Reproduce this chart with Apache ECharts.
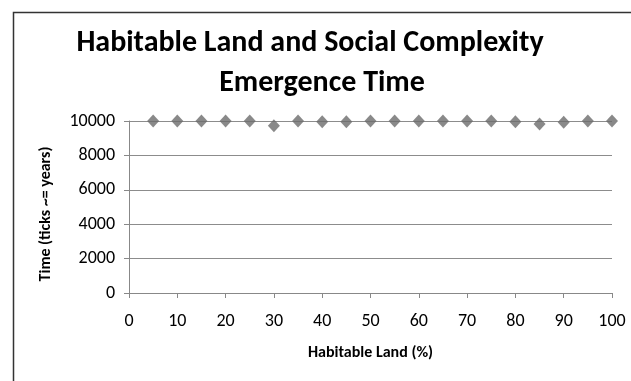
<!DOCTYPE html>
<html>
<head>
<meta charset="utf-8">
<script src="https://cdn.jsdelivr.net/npm/echarts@6/dist/echarts.min.js"></script>
<style>
  html, body { margin: 0; padding: 0; background: #fff; }
  #chart { width: 631px; height: 381px; }
</style>
</head>
<body>
<div id="chart"></div>
<script>
// Habitable land share (%) and the emergence time observed for each run
const habitableLand = [5, 10, 15, 20, 25, 30, 35, 40, 45, 50, 55, 60, 65, 70, 75, 80, 85, 90, 95, 100];
const emergenceTime = [10000, 10000, 10000, 10000, 10000, 9730, 10000, 9950, 9960, 10000, 10000, 10000, 10000, 10000, 10000, 9960, 9820, 9930, 10000, 10000];
const yTicks = [0, 2000, 4000, 6000, 8000, 10000];
const xTicks = [0, 10, 20, 30, 40, 50, 60, 70, 80, 90, 100];

const titleLines = ['Habitable Land and Social Complexity', 'Emergence Time'];
const xTitle = 'Habitable Land (%)';
const yTitle = 'Time (ticks ~= years)';

const points = habitableLand.map((x, i) => [x, emergenceTime[i]]);
const font = 'Carlito, "Open Sans", "Liberation Sans", sans-serif';

const chart = echarts.init(document.getElementById('chart'), null, { renderer: 'canvas' });
chart.setOption({
  animation: false,
  backgroundColor: '#fff',
  graphic: [
    {
      type: 'rect',
      left: 11, top: 10,
      shape: { width: 700, height: 500 },
      style: { fill: 'none', stroke: '#333', lineWidth: 1.5 },
      silent: true
    },
    {
      type: 'text',
      x: 310, y: 43,
      style: {
        text: titleLines[0],
        fontFamily: font, fontWeight: 'bold', fontSize: 30,
        fill: '#000', align: 'center', verticalAlign: 'middle'
      },
      silent: true
    },
    {
      type: 'text',
      x: 322, y: 83,
      style: {
        text: titleLines[1],
        fontFamily: font, fontWeight: 'bold', fontSize: 30,
        fill: '#000', align: 'center', verticalAlign: 'middle'
      },
      silent: true
    },
    {
      // vertical axis title
      type: 'text',
      x: 46, y: 214,
      rotation: Math.PI / 2,
      style: {
        text: yTitle,
        fontFamily: font, fontWeight: 'bold', fontSize: 16,
        fill: '#000', align: 'center', verticalAlign: 'middle'
      },
      silent: true
    }
  ],
  grid: { left: 129, right: 19, top: 121, bottom: 88 },
  xAxis: {
    type: 'value',
    min: xTicks[0],
    max: xTicks[xTicks.length - 1],
    interval: 10,
    name: xTitle,
    nameLocation: 'middle',
    nameGap: 52,
    nameTextStyle: { fontFamily: font, fontWeight: 'bold', fontSize: 16, color: '#000' },
    axisLine: { show: true, lineStyle: { color: '#888', width: 1 } },
    axisTick: { show: true, inside: false, length: 5, lineStyle: { color: '#888' } },
    axisLabel: { fontFamily: font, fontSize: 18, color: '#000', margin: 19 },
    splitLine: { show: false }
  },
  yAxis: {
    type: 'value',
    min: yTicks[0],
    max: yTicks[yTicks.length - 1],
    interval: 2000,
    axisLine: { show: true, lineStyle: { color: '#888', width: 1 } },
    axisTick: { show: true, inside: false, length: 5, lineStyle: { color: '#888' } },
    axisLabel: { fontFamily: font, fontSize: 18, color: '#000', margin: 14, formatter: v => String(v) },
    splitLine: { show: true, lineStyle: { color: '#8c8c8c', width: 1 } }
  },
  series: [{
    type: 'scatter',
    data: points,
    symbol: 'diamond',
    symbolSize: [12, 13],
    itemStyle: { color: '#6b6b6b' }
  }]
});
</script>
</body>
</html>
